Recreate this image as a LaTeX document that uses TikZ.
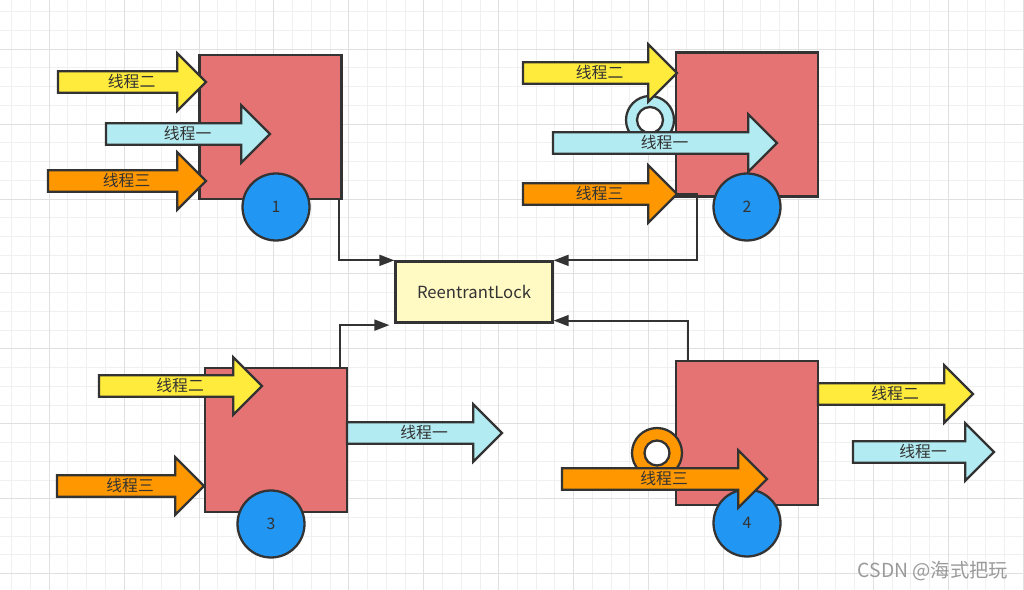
\documentclass[tikz,border=0pt]{standalone}
\usepackage{fontspec}
\setmainfont{Noto Sans CJK SC}
\usetikzlibrary{shapes.arrows,arrows.meta}

\definecolor{edge}{HTML}{333333}
\definecolor{roomred}{HTML}{E57373}
\definecolor{wheelblue}{HTML}{2196F3}
\definecolor{lockyellow}{HTML}{FFF9C4}
\definecolor{thyellow}{HTML}{FFEB3B}
\definecolor{thcyan}{HTML}{B2EBF2}
\definecolor{thorange}{HTML}{FF9800}
\definecolor{gridminor}{HTML}{F0F0F0}
\definecolor{gridmajor}{HTML}{E0E0E0}
\definecolor{markgray}{HTML}{9A9A9A}

\begin{document}
\begin{tikzpicture}[x=0.02cm,y=-0.02cm,
  room/.style={rectangle,draw=edge,line width=1.3pt,fill=roomred,minimum width=2.84cm,minimum height=2.88cm,inner sep=0pt},
  wheel/.style={circle,draw=edge,line width=1.3pt,fill=wheelblue,minimum size=1.34cm,inner sep=0pt,text=edge,font=\fontsize{9}{10}\selectfont},
  lockbox/.style={rectangle,draw=edge,line width=1.3pt,fill=lockyellow,minimum width=3.14cm,minimum height=1.22cm,text=edge,font=\fontsize{9.5}{11}\selectfont},
  thread/.style={single arrow,draw=edge,line width=1.3pt,anchor=tail,outer sep=0pt,single arrow head extend=0.36cm,inner xsep=0pt,inner ysep=1.2pt,text height=7.5pt,text depth=1pt,text=edge,font=\fontsize{9}{10}\selectfont,execute at begin node={\hspace{0.2cm}}},
  ring/.style={circle,draw=edge,line width=1.3pt,inner sep=0pt},
  conn/.style={draw=edge,line width=1pt,-{Triangle[length=0.3cm,width=0.22cm]}}]

% Background and grid
\fill[white] (0,0) rectangle (1024,590);
\useasboundingbox (0,0) rectangle (1024,590);
\foreach \i in {0,...,54}
  \draw[gridminor,line width=0.5pt] ({11.7+18.73*\i},0) -- ({11.7+18.73*\i},590);
\foreach \i in {0,...,31}
  \draw[gridminor,line width=0.5pt] (0,{11.7+18.73*\i}) -- (1024,{11.7+18.73*\i});
\foreach \i in {2,6,...,54}
  \draw[gridmajor,line width=0.5pt] ({11.7+18.73*\i},0) -- ({11.7+18.73*\i},590);
\foreach \i in {2,6,...,30}
  \draw[gridmajor,line width=0.5pt] (0,{11.7+18.73*\i}) -- (1024,{11.7+18.73*\i});

% Lock in the middle
\node[lockbox] (lock) at (474,292) {ReentrantLock};

% The four rooms
\node[room] (b1) at (270.5,127) {};
\node[room] (b2) at (747,124.5) {};
\node[room] (b3) at (276,440) {};
\node[room] (b4) at (747,433) {};

% Connectors to the lock
\coordinate (k2) at (697,194);
\draw[conn] ([xshift=-0.08cm]b1.south east) |- (lock.north west);
\draw[conn] (b2.west |- k2) -- (k2) |- (lock.north east);
\draw[conn] ([xshift=-0.16cm]b3.north east) |- ([xshift=-0.1cm,yshift=-0.03cm]lock.south west);
\draw[conn] ([xshift=0.26cm]b4.north west) |- ([yshift=0.06cm]lock.south east);

% Wheels
\node[wheel] (w1) at (276,207) {1};
\node[wheel] (w2) at (747,207) {2};
\node[wheel] (w3) at (271,524) {3};
\node[wheel] (w4) at (747,523) {4};

% Rings of the waiting threads
\node[ring,fill=thcyan,minimum size=0.96cm] (r2) at (650,120) {};
\node[ring,fill=white,minimum size=0.52cm] (h2) at (r2) {};
\node[ring,fill=thorange,minimum size=1cm] (r4) at (657,453) {};
\node[ring,fill=white,minimum size=0.5cm] (h4) at (r4) {};

% Threads at room 1 (placed by their tails)
\node[thread,fill=thyellow,minimum height=2.96cm] (a1y) at (58,82) {线程二};
\node[thread,fill=thcyan,minimum height=3.28cm] (a1c) at (106,134) {线程一};
\node[thread,fill=thorange,minimum height=3.16cm] (a1o) at (48,181) {线程三};

% Threads at room 2
\node[thread,fill=thyellow,minimum height=3.08cm] (a2y) at (523,73) {线程二};
\node[thread,fill=thcyan,minimum height=4.48cm] (a2c) at (553,143) {线程一};
\node[thread,fill=thorange,minimum height=3.08cm] (a2o) at (523,194) {线程三};

% Threads at room 3
\node[thread,fill=thyellow,minimum height=3.26cm] (a3y) at (99,386) {线程二};
\node[thread,fill=thorange,minimum height=2.94cm] (a3o) at (57,486) {线程三};
\node[thread,fill=thcyan,minimum height=3.10cm] (a3c) at (347,433) {线程一};

% Threads at room 4
\node[thread,fill=thorange,minimum height=4.10cm] (a4o) at (562,479) {线程三};
\node[thread,fill=thyellow,minimum height=3.10cm] (a4y) at (818,394) {线程二};
\node[thread,fill=thcyan,minimum height=2.82cm] (a4c) at (853,452) {线程一};

% Watermark
\node[text=markgray,font=\fontsize{11}{12}\selectfont] (mark) at (933,571) {CSDN @海式把玩};

\end{tikzpicture}
\end{document}
